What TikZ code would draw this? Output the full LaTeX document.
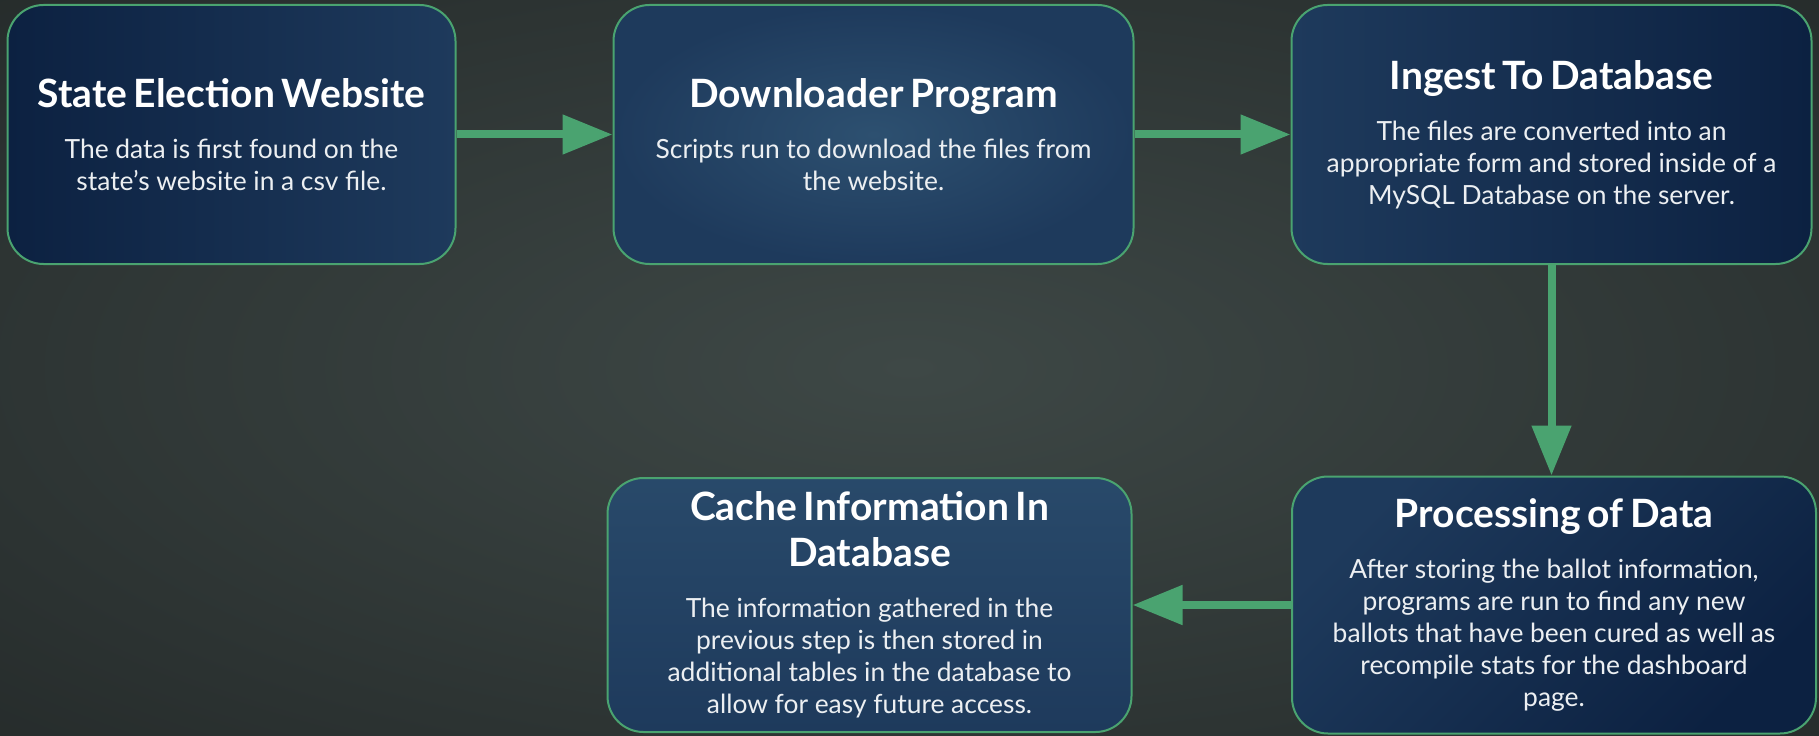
\documentclass[tikz,border=0pt]{standalone}
\usepackage{fontspec}
\setmainfont{Lato}
\usepackage{tikz}
\definecolor{bgcenter}{RGB}{62,72,70}
\definecolor{bgedge}{RGB}{14,16,17}
\definecolor{navydark}{RGB}{12,33,65}
\definecolor{navymid}{RGB}{30,58,92}
\definecolor{navylight}{RGB}{45,80,112}
\definecolor{flowgreen}{RGB}{74,163,112}
\definecolor{bodytext}{RGB}{236,239,242}
\usetikzlibrary{arrows.meta,positioning}
\pgfdeclareradialshading{bgglow}{\pgfpoint{0bp}{0bp}}{color(0bp)=(bgcenter); color(72bp)=(bgedge)}
\newcommand{\steptext}[2]{{\fontsize{19.5pt}{23pt}\selectfont\bfseries #1\par}\vspace{9.5pt}{\fontsize{13.2pt}{16pt}\selectfont\color{bodytext}#2\par}}

\begin{document}
\begin{tikzpicture}[
    x=0.5pt, y=0.5pt,
    stepbox/.style={
        rectangle,
        rounded corners=18pt,
        draw=flowgreen,
        line width=1pt,
        minimum height=129.5pt,
        inner sep=6pt,
        align=center,
        text=white
    },
    flow/.style={-{Triangle[length=25pt,width=19pt]},line width=4pt,flowgreen}
]
    % Background
    \shade[shading=bgglow] (0,0) rectangle (1819,735);
    \useasboundingbox (0,0) rectangle (1819,735);

    % Steps
    \node[stepbox, left color=navydark, right color=navymid, minimum width=223.5pt, text width=212pt] (site) at (231.5,600.5)
        {\steptext{State Election Website}{The data is first found on the\\state’s website in a csv file.}};
    \node[stepbox, inner color=navylight, outer color=navymid, minimum width=259.5pt, text width=248pt] (downloader) at (873.5,600.5)
        {\steptext{Downloader Program}{Scripts run to download the files from\\the website.}};
    \node[stepbox, left color=navymid, right color=navydark, minimum width=259.5pt, text width=248pt] (ingest) at (1551.5,600.5)
        {\steptext{Ingest To Database}{The files are converted into an\\appropriate form and stored inside of a\\MySQL Database on the server.}};
    \node[stepbox, top color=navylight!70!navymid, bottom color=navymid, minimum width=261.5pt, minimum height=127pt, text width=250pt] (cache) at (869.5,130)
        {\steptext{Cache Information In\\Database}{The information gathered in the\\previous step is then stored in\\additional tables in the database to\\allow for easy future access.}};
    \node[stepbox, top color=navymid, bottom color=navydark, shading angle=45, minimum width=262pt, minimum height=128.5pt, text width=250pt] (processing) at (1554,130)
        {\steptext{Processing of Data}{After storing the ballot information,\\programs are run to find any new\\ballots that have been cured as well as\\recompile stats for the dashboard\\page.}};

    % Arrows
    \draw[flow] (site) -- (downloader);
    \draw[flow] (downloader) -- (ingest);
    \draw[flow] (ingest.south) -- (ingest.south |- processing.north);
    \draw[flow] (processing) -- (cache);
\end{tikzpicture}
\end{document}
